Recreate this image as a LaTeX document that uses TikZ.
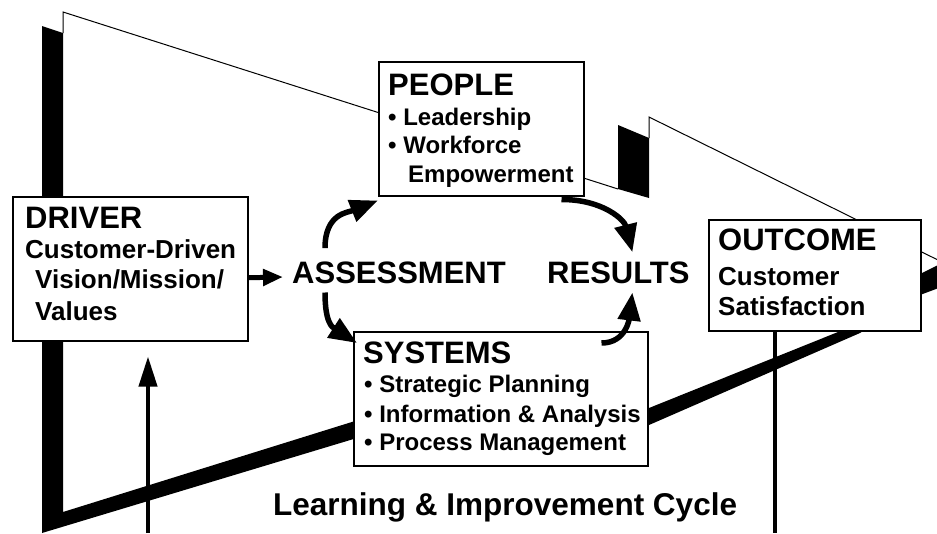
\documentclass[tikz,border=0pt]{standalone}
\usepackage{fontspec}
\setmainfont{Liberation Sans}
\usetikzlibrary{arrows.meta}

\begin{document}
\begin{tikzpicture}[x=1pt,y=-1pt]
    \tikzset{box/.style = {draw, line width=1.5pt, fill=white, anchor=north west, inner sep=0pt}}
    \tikzset{head/.style = {anchor=base west, inner sep=0pt, font=\fontsize{31}{31}\selectfont\bfseries}}
    \tikzset{txt/.style = {anchor=base west, inner sep=0pt, font=\fontsize{26}{26}\selectfont\bfseries}}
    \tikzset{bul/.style = {anchor=base west, inner sep=0pt, font=\fontsize{24}{24}\selectfont\bfseries}}
    \tikzset{flow/.style = {line width=5.5pt, -{Triangle[length=28pt,width=22pt]}}}
    \tikzset{fback/.style = {line width=4pt}}

    \useasboundingbox (0,0) rectangle (937,533);

    % sawtooth band behind the boxes
    \fill (42,26) -- (63,33) -- (63,512) -- (400,407) -- (400,425) -- (42,533) -- cycle;
    \draw[line width=1pt] (63,33) -- (63,12) -- (618,189);
    \fill (618,125) -- (649,138) -- (649,198) -- (618,189) -- cycle;
    \draw[line width=1pt] (649,138) -- (649,117) -- (944,263);
    \fill (649,408) -- (843,330) -- (920,274) -- (944,262) -- (944,286) -- (920,295) -- (860,333) -- (649,425) -- cycle;

    % boxes
    \node[box, minimum width=235, minimum height=144] (driver) at (12,196) {};
    \node[box, minimum width=205, minimum height=134] (people) at (378,61) {};
    \node[box, minimum width=294, minimum height=134] (systems) at (353,331) {};
    \node[box, minimum width=212, minimum height=111] (outcome) at (708,219) {};

    % box texts
    \node[head] (drvh) at ([shift={(13,32)}]driver.north west) {DRIVER};
    \node[txt] (drv1) at ([shift={(13,62)}]driver.north west) {Customer-Driven};
    \node[txt] (drv2) at ([shift={(23,92)}]driver.north west) {Vision/Mission/};
    \node[txt] (drv3) at ([shift={(23,124)}]driver.north west) {Values};

    \node[head] (pplh) at ([shift={(10,34)}]people.north west) {PEOPLE};
    \node[bul] (ppl1) at ([shift={(10,64)}]people.north west) {• Leadership};
    \node[bul] (ppl2) at ([shift={(10,92)}]people.north west) {• Workforce};
    \node[bul] (ppl3) at ([shift={(30,121)}]people.north west) {Empowerment};

    \node[head] (sysh) at ([shift={(10,32)}]systems.north west) {SYSTEMS};
    \node[bul] (sys1) at ([shift={(11,61)}]systems.north west) {• Strategic Planning};
    \node[bul] (sys2) at ([shift={(11,91)}]systems.north west) {• Information \& Analysis};
    \node[bul] (sys3) at ([shift={(11,119)}]systems.north west) {• Process Management};

    \node[head] (outh) at ([shift={(10,31)}]outcome.north west) {OUTCOME};
    \node[txt] (out1) at ([shift={(10,66)}]outcome.north west) {Customer};
    \node[txt] (out2) at ([shift={(10,96)}]outcome.north west) {Satisfaction};

    \node[head] (assess) at (292,283) {ASSESSMENT};
    \node[head] (results) at (547,283) {RESULTS};
    \node[head, font=\fontsize{31.5}{31.5}\selectfont\bfseries] (lic) at (273,515) {Learning \& Improvement Cycle};

    % arrows
    \draw[line width=5pt, -{Triangle[length=20pt,width=16pt]}] ([shift={(0,9)}]driver.east) -- ([shift={(-9,-6)}]assess.base west);
    \draw[flow] ([shift={(33,-13)}]assess.north west) .. controls +(0,-35) and +(-30,12) .. ([shift={(0,4)}]people.south west);
    \draw[flow] ([shift={(33,9)}]assess.south west) .. controls +(0,30) and +(-25,-16) .. ([shift={(4,12)}]systems.north west);
    \draw[flow] ([shift={(-23,3)}]people.south east) .. controls +(42,0) and +(-8,-32) .. ([shift={(14,-9)}]results.north);
    \draw[flow] ([shift={(-47,12)}]systems.north east) .. controls +(25,0) and +(-3,25) .. ([shift={(14,9)}]results.south);

    % feedback lines
    \coordinate (fbl) at (148,533);
    \coordinate (fbr) at (775,533);
    \draw[fback, -{Triangle[length=30pt,width=18pt]}, shorten >=15pt] (fbl) -- (fbl |- driver.south);
    \draw[fback] (outcome.south west -| fbr) -- (fbr);
\end{tikzpicture}
\end{document}
